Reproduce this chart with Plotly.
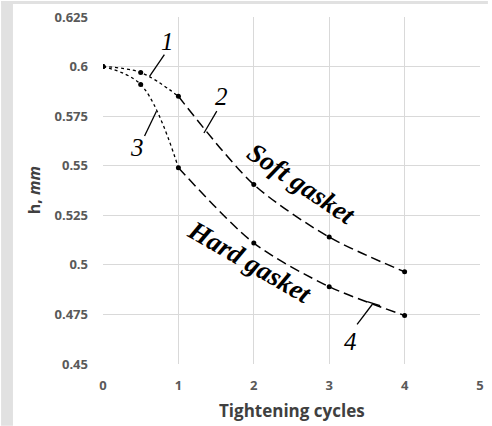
import plotly.graph_objects as go

cycles = [0, 0.5, 1, 2, 3, 4]
soft = [0.6, 0.597, 0.585, 0.5405, 0.514, 0.4965]
hard = [0.6, 0.591, 0.549, 0.511, 0.489, 0.4745]
x_ticks = [0, 1, 2, 3, 4, 5]
y_ticks = [0.45, 0.475, 0.5, 0.525, 0.55, 0.575, 0.6, 0.625]
y_tick_text = ["0.45", "0.475", "0.5", "0.525", "0.55", "0.575", "0.6", "0.625"]

W, H = 492, 426
ML, MR, MT, MB = 103, 8, 16, 62
pw, ph = W - ML - MR, H - MT - MB

fig = go.Figure()

def add_series(xs, ys):
    # dotted segment up to x=1, dashed afterwards
    n1 = xs.index(1) + 1
    fig.add_trace(go.Scatter(x=xs[:n1], y=ys[:n1], mode="lines",
                             line=dict(color="black", width=1.3, dash="dot", shape="spline", smoothing=1.0),
                             showlegend=False, hoverinfo="skip"))
    fig.add_trace(go.Scatter(x=xs[n1 - 1:], y=ys[n1 - 1:], mode="lines",
                             line=dict(color="black", width=1.5, dash="10px,5px", shape="spline", smoothing=0.8),
                             showlegend=False, hoverinfo="skip"))
    fig.add_trace(go.Scatter(x=xs, y=ys, mode="markers",
                             marker=dict(color="black", size=5),
                             showlegend=False))

add_series(cycles, soft)
add_series(cycles, hard)

# leader lines for labels
leaders = [
    (0.617, 0.595, 0.814, 0.606),
    (1.339, 0.5665, 1.509, 0.5775),
    (0.551, 0.565, 0.709, 0.5775),
    (3.57, 0.48, 3.37, 0.47),
    (3.504, 0.4815, 3.675, 0.4795),
]
shapes = []
for x0, y0, x1, y1 in leaders:
    shapes.append(dict(type="line", xref="x", yref="y", x0=x0, y0=y0, x1=x1, y1=y1,
                       line=dict(color="black", width=1.3)))

# gray frame strips at left and top of the image
def px_x(p):
    return (p - ML) / pw

def px_y(p):
    return 1 - (p - MT) / ph

shapes.append(dict(type="rect", xref="paper", yref="paper", x0=px_x(0), x1=px_x(12),
                   y0=px_y(H), y1=px_y(0), fillcolor="#e1e1e1", line=dict(width=0), layer="below"))
shapes.append(dict(type="rect", xref="paper", yref="paper", x0=px_x(0), x1=px_x(W),
                   y0=px_y(3), y1=px_y(0), fillcolor="#e1e1e1", line=dict(width=0), layer="below"))

serif = "Liberation Serif"
lab = dict(family=serif, size=25, color="black")
annotations = [
    dict(x=0.853, y=0.6125, text="<i>1</i>", showarrow=False, font=lab),
    dict(x=1.575, y=0.585, text="<i>2</i>", showarrow=False, font=lab),
    dict(x=0.446, y=0.559, text="<i>3</i>", showarrow=False, font=lab),
    dict(x=3.28, y=0.4615, text="<i>4</i>", showarrow=False, font=lab),
    dict(x=2.64, y=0.541, text="<b><i>Soft gasket</i></b>", showarrow=False, textangle=34,
         font=dict(family=serif, size=27, color="black")),
    dict(x=1.95, y=0.5015, text="<b><i>Hard gasket</i></b>", showarrow=False, textangle=30,
         font=dict(family=serif, size=27, color="black")),
    dict(xref="paper", yref="paper", x=px_x(33), y=0.5, xanchor="center", yanchor="middle",
         text="<b>h, <i>mm</i></b>", showarrow=False,
         textangle=-90, font=dict(family="Open Sans", size=16, color="#404040")),
    dict(xref="paper", yref="paper", x=0.5, y=px_y(411), xanchor="center", yanchor="middle",
         text="<b>Tightening cycles</b>", showarrow=False,
         font=dict(family="Open Sans", size=17, color="#404040")),
]

fig.update_layout(
    width=W, height=H,
    margin=dict(l=ML, r=MR, t=MT, b=MB),
    paper_bgcolor="white", plot_bgcolor="white",
    shapes=shapes, annotations=annotations,
    xaxis=dict(range=[0, 5], tickvals=x_ticks, showgrid=True, gridcolor="#d9d9d9", gridwidth=1,
               zeroline=False, showline=False, ticks="", ticklabelstandoff=12,
               tickfont=dict(family="Open Sans", size=13, color="#595959", weight="bold"),
               fixedrange=True),
    yaxis=dict(range=[0.45, 0.625], tickvals=y_ticks, ticktext=y_tick_text, showgrid=True,
               gridcolor="#d9d9d9", gridwidth=1, zeroline=False, showline=False, ticks="",
               ticklabelstandoff=14,
               tickfont=dict(family="Open Sans", size=13, color="#595959", weight="bold"),
               fixedrange=True),
)

fig.write_html("out.html")
